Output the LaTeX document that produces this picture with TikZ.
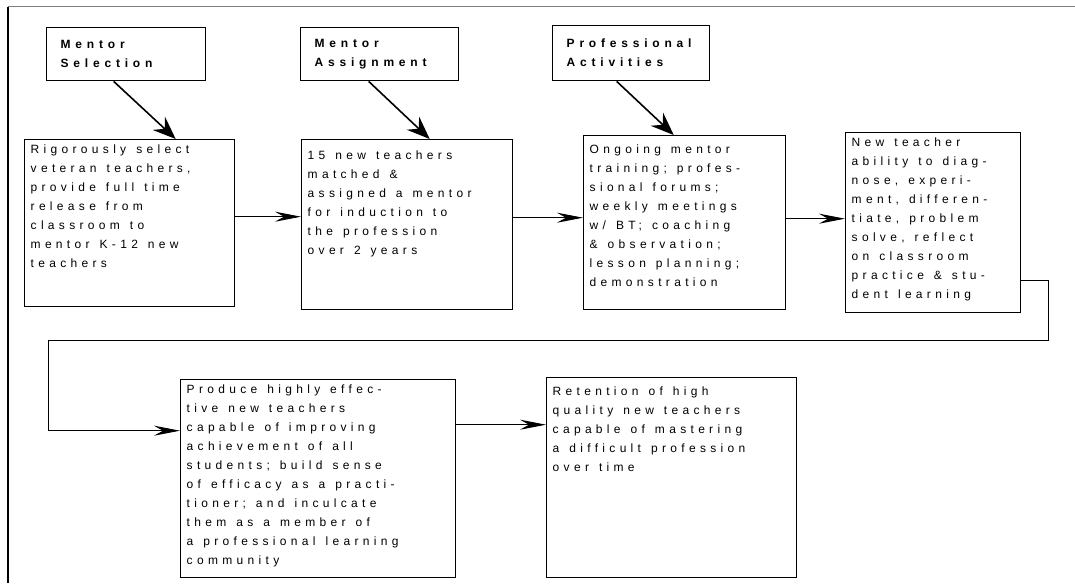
\documentclass[tikz,border=0pt]{standalone}
\usepackage{fontspec}
\newfontfamily\spaced[LetterSpace=36]{Liberation Sans}
\newfontfamily\headspaced[LetterSpace=40]{Liberation Sans}
\newcommand\wgap{\hspace{10pt}}
\usetikzlibrary{arrows.meta}

\begin{document}
\begin{tikzpicture}[
    x=1pt, y=-1pt,
    stepbox/.style={
        draw,
        line width=1.4pt,
        anchor=north west,
        align=left,
        inner xsep=6pt,
        inner ysep=0pt,
        font=\spaced\fontsize{12}{19}\selectfont
    },
    headbox/.style={
        draw,
        line width=1.4pt,
        anchor=north west,
        align=left,
        inner xsep=14pt,
        font=\headspaced\bfseries\fontsize{12}{19}\selectfont
    },
    feed/.style={
        -{Stealth[length=23pt, width=18pt, inset=8pt]},
        line width=1.6pt
    },
    flow/.style={
        -{Stealth[length=26pt, width=10pt, inset=9pt]},
        line width=0.9pt
    }
]
\useasboundingbox (0,0) rectangle (1075,583);

% frame
\draw[gray, line width=1pt] (8,7) -- (1075,7);
\draw[line width=1.6pt] (8,7) -- (8,583);

% headings
\node[headbox, text width=131pt, minimum height=53pt] (hsel) at (46,27) {Mentor\\Selection};
\node[headbox, text width=130pt, minimum height=53pt] (hasg) at (300,27) {Mentor\\Assignment};
\node[headbox, text width=129pt, minimum height=55pt] (hpro) at (552,25) {Professional\\Activities};

% steps, top row
\node[stepbox, text width=198pt, text height=13.6pt, text depth=153.4pt] (sel) at (24,139)
    {Rigorously\wgap select\\veteran\wgap teachers,\\provide\wgap full\wgap time\\release\wgap from\\classroom\wgap to\\mentor\wgap K-12\wgap new\\teachers};
\node[stepbox, text width=199pt, text height=19.6pt, text depth=150.4pt] (asg) at (301,139)
    {15\wgap new\wgap teachers\\matched\wgap \&\\assigned\wgap a\wgap mentor\\for\wgap induction\wgap to\\the\wgap profession\\over\wgap 2\wgap years};
\node[stepbox, text width=190pt, text height=17.6pt, text depth=156.4pt] (pro) at (583,135)
    {Ongoing\wgap mentor\\training;\wgap profes-\\sional\wgap forums;\\weekly\wgap meetings\\w/\wgap BT;\wgap coaching\\\&\wgap observation;\\lesson\wgap planning;\\demonstration};
\node[stepbox, text width=163pt, text height=14pt, text depth=166pt] (abil) at (845,132)
    {New\wgap teacher\\ability\wgap to\wgap diag-\\nose,\wgap experi-\\ment,\wgap differen-\\tiate,\wgap problem\\solve,\wgap reflect\\on\wgap classroom\\practice\wgap \&\wgap stu-\\dent\wgap learning};

% steps, bottom row
\node[stepbox, text width=263pt, text height=14pt, text depth=184pt] (prod) at (180,379)
    {Produce\wgap highly\wgap effec-\\tive\wgap new\wgap teachers\\capable\wgap of\wgap improving\\achievement\wgap of\wgap all\\students;\wgap build\wgap sense\\of\wgap efficacy\wgap as\wgap a\wgap practi-\\tioner;\wgap and\wgap inculcate\\them\wgap as\wgap a\wgap member\wgap of\\a\wgap professional\wgap learning\\community};
\node[stepbox, text width=238pt, text height=18pt, text depth=182pt] (ret) at (546,377)
    {Retention\wgap of\wgap high\\quality\wgap new\wgap teachers\\capable\wgap of\wgap mastering\\a\wgap difficult\wgap profession\\over\wgap time};

% heading arrows
\draw[feed] ([xshift=-12.5pt]hsel.south) -- ([xshift=46pt]sel.north);
\draw[feed] ([xshift=-11pt]hasg.south) -- ([xshift=22.5pt]asg.north);
\draw[feed] ([xshift=-14.5pt]hpro.south) -- ([xshift=-11pt]pro.north);

% flow arrows
\draw[flow] ([yshift=6.5pt]sel.east) -- ([yshift=6.5pt]sel.east -| asg.west);
\draw[flow] ([yshift=7pt]asg.east) -- ([yshift=7pt]asg.east -| pro.west);
\draw[flow] ([yshift=4pt]pro.east) -- ([yshift=4pt]pro.east -| abil.west);

\coordinate (turnR) at (1048,340);
\coordinate (turnL) at (48,340);
\draw[flow] ([yshift=-58pt]abil.east) -| (turnR) -- (turnL) |- ([yshift=48pt]prod.west);
\draw[flow] ([yshift=54pt]prod.east) -- ([yshift=54pt]prod.east -| ret.west);

\end{tikzpicture}
\end{document}
